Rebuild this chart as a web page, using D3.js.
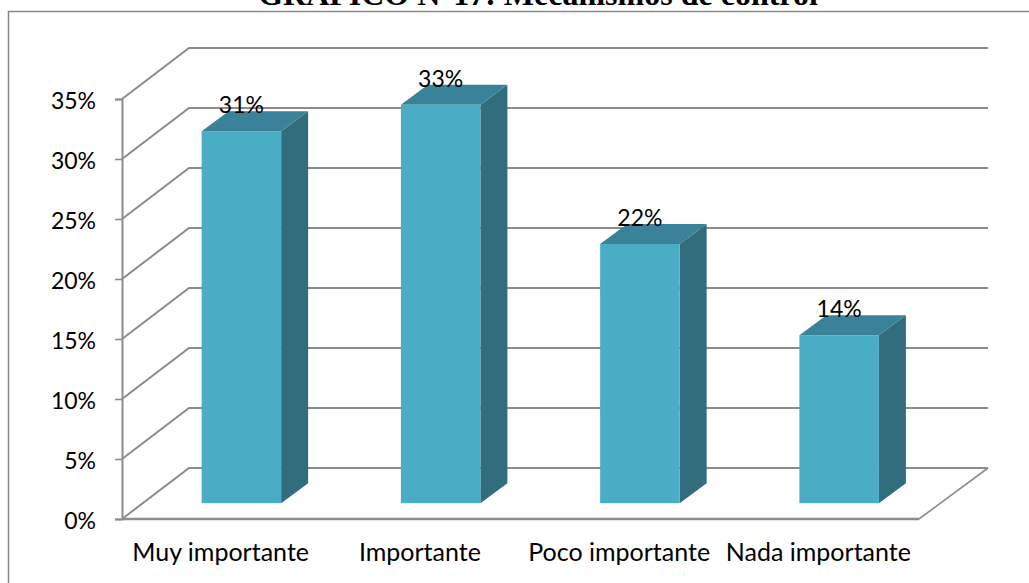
<!DOCTYPE html>
<html>
<head>
<meta charset="utf-8">
<script src="https://cdn.jsdelivr.net/npm/d3@7"></script>
<style>
  html, body { margin: 0; padding: 0; background: #fff; overflow: hidden; }
  svg { display: block; }
</style>
</head>
<body>
<div id="chart"></div>
<script>
const categories = ['Muy importante', 'Importante', 'Poco importante', 'Nada importante'];
const seriesValues = [31, 33.2, 21.6, 14];
const seriesLabels = ['31%', '33%', '22%', '14%'];
const tickValues = [0, 5, 10, 15, 20, 25, 30, 35];
const titleText = 'GRAFICO N°17: Mecanismos de control';

const width = 1029;
const height = 583;
const font = 'Lato, "Noto Sans", sans-serif';
const fontSize = 23;

const canvas = d3.select('#chart')
  .append('svg')
  .attr('width', width)
  .attr('height', height);

// Frame, open on the right and bottom like the cropped original
canvas.append('path')
  .attr('d', `M8.5 ${height}V11.5H${width}`)
  .attr('fill', 'none')
  .attr('stroke', '#868686')
  .attr('stroke-width', 1.5);

canvas.append('text')
  .attr('x', 538)
  .attr('y', 5)
  .attr('text-anchor', 'middle')
  .attr('font-family', '"Liberation Serif", serif')
  .attr('font-weight', 'bold')
  .attr('font-size', 32)
  .text(titleText);

// Scales, front plane of the 3D box
const yScale = d3.scaleLinear().domain([0, 35]).range([519, 99]);
const xScale = d3.scaleBand().domain(categories).range([122, 919]);

// Depth of the box and of the bars
const depthX = 67;
const depthY = -51;
const barZ = 0.31;
const barDepthX = 27;
const barDepthY = -20;
const barWidth = 79.5;

const grid = canvas.append('g').attr('fill', 'none').attr('stroke', '#8c8c8c');

// Back wall lines and the slanted lines on the side wall
tickValues.forEach((t) => {
  const y = yScale(t);
  grid.append('path')
    .attr('d', d3.line()([[122, y], [122 + depthX, y + depthY], [919 + depthX + 2, y + depthY]]))
    .attr('stroke-width', 2);
});

// Floor front edge and right edge
grid.append('path')
  .attr('d', d3.line()([[919, yScale(0)], [919 + depthX + 2, yScale(0) + depthY]]))
  .attr('stroke-width', 1.6);
grid.append('path')
  .attr('d', d3.line()([[122, yScale(0)], [919, yScale(0)]]))
  .attr('stroke-width', 2.4);

// Y axis
const yAxis = d3.axisLeft(yScale)
  .tickValues(tickValues)
  .tickSize(7)
  .tickPadding(19)
  .tickFormat((d) => `${d}%`);

const axisG = canvas.append('g').attr('transform', 'translate(122,0)').call(yAxis);
axisG.select('.domain').attr('stroke', '#8c8c8c').attr('stroke-width', 2);
axisG.selectAll('.tick line').attr('stroke', '#8c8c8c').attr('stroke-width', 1.6);
axisG.selectAll('.tick text')
  .attr('dy', '0.41em')
  .attr('font-family', font)
  .attr('font-size', fontSize)
  .attr('fill', '#000');

// Category labels, a bit larger than the numbers since Lato runs narrower here
canvas.append('g')
  .selectAll('text')
  .data(categories)
  .enter()
  .append('text')
  .attr('x', (d) => xScale(d) + xScale.bandwidth() / 2 - 1)
  .attr('y', 561)
  .attr('text-anchor', 'middle')
  .attr('font-family', font)
  .attr('font-size', 25)
  .text((d) => d);

// Bars: side, top, front
const bars = canvas.append('g')
  .selectAll('g')
  .data(categories.map((c, i) => ({ c, v: seriesValues[i], label: seriesLabels[i] })))
  .enter()
  .append('g');

const bottom = yScale(0) + depthY * barZ;
const barX = (d) => xScale(d.c) + xScale.bandwidth() / 2 - barWidth / 2 + depthX * barZ - 1;
const barTop = (d) => bottom - (yScale(0) - yScale(d.v));

bars.append('path')
  .attr('fill', '#316d7d')
  .attr('d', (d) => {
    const r = barX(d) + barWidth;
    return d3.line()([[r, barTop(d)], [r + barDepthX, barTop(d) + barDepthY],
      [r + barDepthX, bottom + barDepthY], [r, bottom]]);
  });

bars.append('path')
  .attr('fill', '#398299')
  .attr('d', (d) => {
    const l = barX(d);
    return d3.line()([[l, barTop(d)], [l + barDepthX, barTop(d) + barDepthY],
      [l + barWidth + barDepthX, barTop(d) + barDepthY], [l + barWidth, barTop(d)]]);
  });

bars.append('rect')
  .attr('x', barX)
  .attr('y', barTop)
  .attr('width', barWidth)
  .attr('height', (d) => bottom - barTop(d))
  .attr('fill', '#4bacc6');

bars.append('text')
  .attr('x', (d) => barX(d) + barWidth / 2)
  .attr('y', (d) => barTop(d) - 18)
  .attr('text-anchor', 'middle')
  .attr('font-family', font)
  .attr('font-size', fontSize)
  .attr('fill', '#000')
  .text((d) => d.label);
</script>
</body>
</html>
